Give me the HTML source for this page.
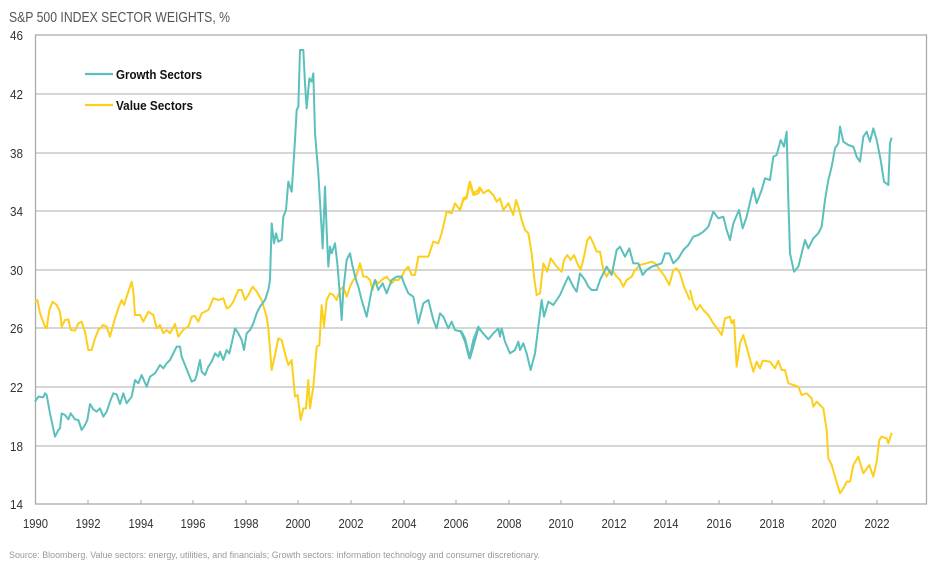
<!DOCTYPE html>
<html><head><meta charset="utf-8"><style>
body{margin:0;background:#fff;}
svg{display:block;font-family:"Liberation Sans Narrow","Liberation Sans",Arial,sans-serif;}
</style></head><body>
<svg width="944" height="569" viewBox="0 0 944 569" xmlns="http://www.w3.org/2000/svg">
<text x="9" y="22" font-size="14.5" fill="#555" textLength="221" lengthAdjust="spacingAndGlyphs">S&amp;P 500 INDEX SECTOR WEIGHTS, %</text>
<g stroke="#bdbdbd" stroke-width="1.3">
<line x1="35" y1="94" x2="926" y2="94"/><line x1="35" y1="153" x2="926" y2="153"/>
<line x1="35" y1="211" x2="926" y2="211"/><line x1="35" y1="270" x2="926" y2="270"/>
<line x1="35" y1="328" x2="926" y2="328"/><line x1="35" y1="387" x2="926" y2="387"/>
<line x1="35" y1="446" x2="926" y2="446"/>
</g>
<rect x="35.5" y="35" width="891" height="469" fill="none" stroke="#aaa" stroke-width="1.3"/>
<g stroke="#aaa" stroke-width="1">
<line x1="88" y1="500" x2="88" y2="504"/><line x1="141" y1="500" x2="141" y2="504"/><line x1="193" y1="500" x2="193" y2="504"/><line x1="246" y1="500" x2="246" y2="504"/><line x1="298" y1="500" x2="298" y2="504"/><line x1="351" y1="500" x2="351" y2="504"/><line x1="404" y1="500" x2="404" y2="504"/><line x1="456" y1="500" x2="456" y2="504"/><line x1="509" y1="500" x2="509" y2="504"/><line x1="561" y1="500" x2="561" y2="504"/><line x1="614" y1="500" x2="614" y2="504"/><line x1="666" y1="500" x2="666" y2="504"/><line x1="719" y1="500" x2="719" y2="504"/><line x1="772" y1="500" x2="772" y2="504"/><line x1="824" y1="500" x2="824" y2="504"/><line x1="877" y1="500" x2="877" y2="504"/>
</g>
<g font-size="13" fill="#333" text-anchor="end">
<text x="23" y="40" textLength="13" lengthAdjust="spacingAndGlyphs">46</text><text x="23" y="99" textLength="13" lengthAdjust="spacingAndGlyphs">42</text><text x="23" y="158" textLength="13" lengthAdjust="spacingAndGlyphs">38</text><text x="23" y="216" textLength="13" lengthAdjust="spacingAndGlyphs">34</text><text x="23" y="275" textLength="13" lengthAdjust="spacingAndGlyphs">30</text><text x="23" y="333" textLength="13" lengthAdjust="spacingAndGlyphs">26</text><text x="23" y="392" textLength="13" lengthAdjust="spacingAndGlyphs">22</text><text x="23" y="451" textLength="13" lengthAdjust="spacingAndGlyphs">18</text><text x="23" y="509" textLength="13" lengthAdjust="spacingAndGlyphs">14</text>
</g>
<g font-size="13" fill="#333">
<text x="23" y="528" textLength="25" lengthAdjust="spacingAndGlyphs">1990</text><text x="75.5" y="528" textLength="25" lengthAdjust="spacingAndGlyphs">1992</text><text x="128.5" y="528" textLength="25" lengthAdjust="spacingAndGlyphs">1994</text><text x="180.5" y="528" textLength="25" lengthAdjust="spacingAndGlyphs">1996</text><text x="233.5" y="528" textLength="25" lengthAdjust="spacingAndGlyphs">1998</text><text x="285.5" y="528" textLength="25" lengthAdjust="spacingAndGlyphs">2000</text><text x="338.5" y="528" textLength="25" lengthAdjust="spacingAndGlyphs">2002</text><text x="391.5" y="528" textLength="25" lengthAdjust="spacingAndGlyphs">2004</text><text x="443.5" y="528" textLength="25" lengthAdjust="spacingAndGlyphs">2006</text><text x="496.5" y="528" textLength="25" lengthAdjust="spacingAndGlyphs">2008</text><text x="548.5" y="528" textLength="25" lengthAdjust="spacingAndGlyphs">2010</text><text x="601.5" y="528" textLength="25" lengthAdjust="spacingAndGlyphs">2012</text><text x="653.5" y="528" textLength="25" lengthAdjust="spacingAndGlyphs">2014</text><text x="706.5" y="528" textLength="25" lengthAdjust="spacingAndGlyphs">2016</text><text x="759.5" y="528" textLength="25" lengthAdjust="spacingAndGlyphs">2018</text><text x="811.5" y="528" textLength="25" lengthAdjust="spacingAndGlyphs">2020</text><text x="864.5" y="528" textLength="25" lengthAdjust="spacingAndGlyphs">2022</text>
</g>
<text x="9" y="558" font-size="9.5" fill="#999" textLength="531" lengthAdjust="spacingAndGlyphs">Source: Bloomberg. Value sectors: energy, utilities, and financials; Growth sectors: information technology and consumer discretionary.</text>
<line x1="85" y1="74" x2="113" y2="74" stroke="#5bc0bb" stroke-width="2.2"/>
<line x1="85" y1="105" x2="113" y2="105" stroke="#fccf1a" stroke-width="2.2"/>
<text x="116" y="79" font-size="13" font-weight="bold" fill="#111" textLength="86" lengthAdjust="spacingAndGlyphs">Growth Sectors</text>
<text x="116" y="110" font-size="13" font-weight="bold" fill="#111" textLength="77" lengthAdjust="spacingAndGlyphs">Value Sectors</text>
<g fill="none" stroke-width="2" stroke-linejoin="round">
<g stroke="#fccf1a">
<polyline vector-effect="non-scaling-stroke" transform="translate(0,280) scale(0.33333)" points="105,65 112,60 120,100 135,140 140,145 148,90 158,65 170,75 180,95 185,140 195,120 205,118 212,150 225,152 235,130 245,125 255,155 265,210 275,210 285,175 295,150 310,135 320,140 330,170 345,115 355,85 365,60 372,75 385,35 395,5 400,35 405,105 420,105 430,125 445,95 460,105 470,145 480,135 490,160 500,150 510,160 525,132 535,170 545,155 555,145 565,140 575,110 585,108 595,125 605,100 615,95 625,90 640,55 655,60 670,55 680,85 690,80 700,65 715,30 725,30 735,60 745,45 758,20 770,35 785,60 800,110 805,145 815,270 825,225 835,175 845,180 855,220 865,255 875,240 885,350 893,345 902,420 910,385 918,385 925,300 930,385 940,320 950,200 958,195 965,75 972,140 980,60 990,40 1000,45 1010,60 1020,30"/>
<polyline vector-effect="non-scaling-stroke" transform="scale(0.33333)" points="1020,870 1030,860 1040,890 1050,860 1060,840 1068,830 1080,790 1090,830 1100,830 1110,840 1118,870 1125,840 1135,850 1145,840 1160,830 1175,850 1185,840 1195,840 1205,830 1215,810 1225,800 1235,825 1245,825 1255,770 1270,770 1285,770 1300,725 1315,730 1325,700 1340,635 1355,640 1365,610 1380,630 1390,600 1400,595 1410,545 1420,580 1435,570 1440,560"/>
<polyline vector-effect="non-scaling-stroke" transform="translate(460,0) scale(0.33333)" points="0,630 10,595 20,590 28,548 40,585 55,580 62,565 70,580 85,570 100,585 110,605 120,595 130,630 145,610 160,645 168,600 178,630 185,660 195,690 205,700 215,760 222,830 230,885 240,880 250,790 262,815 272,775 290,800 305,815 312,780 322,765 332,780 342,765 352,790 362,810 372,770 382,720 390,710 400,730 410,755 420,755 430,810 440,830 450,810 460,815 470,830 480,840 490,860 500,840 515,830 525,810 540,795 560,790 575,785 585,790 600,810 615,830 628,855 640,810 650,805 660,820 672,860 685,890 690,900"/>
<polyline vector-effect="non-scaling-stroke" transform="translate(460,280) scale(0.33333)" points="690,30 700,70 710,90 720,75 730,90 745,105 760,130 775,150 785,165 795,115 810,110 815,130 822,120 830,260 840,190 850,165 865,220 880,275 890,245 900,265 908,242 930,245 945,265 955,242 965,270 975,270 985,310 1000,315 1015,320 1025,345 1040,340 1055,355 1060,380 1070,365 1090,385 1100,450 1105,535 1115,555 1128,600 1140,640 1150,625 1160,605 1170,605 1180,555 1195,530 1210,580 1228,555 1240,590 1250,545 1258,480 1265,470 1280,475 1285,490 1295,458"/>
</g>
<g stroke="#5bc0bb">
<polyline vector-effect="non-scaling-stroke" transform="translate(0,280) scale(0.33333)" points="105,365 115,350 130,352 135,340 140,345 150,400 165,470 175,450 180,445 185,400 195,405 205,418 212,400 225,418 235,420 245,450 255,435 262,420 270,372 280,388 290,395 300,385 310,410 320,395 330,365 340,340 350,343 360,372 370,340 380,370 395,350 405,300 415,310 425,285 440,320 450,290 465,280 480,255 490,265 500,250 510,240 520,220 530,200 540,200 545,230 555,255 565,280 575,305 585,300 590,285 600,240 605,275 615,285 625,260 635,245 645,220 655,230 660,215 670,240 680,210 688,220 695,190 705,145 715,160 725,180 732,210 740,160 750,150 760,130 770,100 780,80 795,60 805,30 810,0"/>
<polyline vector-effect="non-scaling-stroke" transform="scale(0.33333)" points="810,840 815,670 822,730 828,700 835,725 845,720 850,650 858,630 865,545 875,575 880,500 885,420 890,330 895,320 900,150 910,150 915,250 920,325 928,235 935,245 940,220 945,400 955,520 965,690 968,745 975,560 980,690 985,800 990,740 995,760 1005,730 1012,790 1020,890 1025,960 1030,870 1040,780 1050,760 1058,800 1068,840 1075,860 1085,900 1100,950 1115,870 1125,840 1135,870 1148,850 1160,880 1175,840 1190,830 1205,830 1212,850"/>
<polyline vector-effect="non-scaling-stroke" transform="translate(0,280) scale(0.33333)" points="1212,10 1225,40 1240,50 1255,130 1270,70 1285,60 1300,120 1310,145 1320,100 1330,110 1345,145 1355,125 1365,150 1385,155 1395,175 1410,235 1420,200 1435,145 1440,150"/>
<polyline vector-effect="non-scaling-stroke" transform="translate(460,280) scale(0.33333)" points="0,150 15,185 28,235 40,180 55,140 65,155 85,178 100,160 115,145 120,170 125,145 135,185 150,220 165,210 175,185 180,210 190,190 200,220 212,270 225,220 235,140 245,60 252,110 265,65 280,75 300,45 320,0"/>
<polyline vector-effect="non-scaling-stroke" transform="translate(460,0) scale(0.33333)" points="320,840 325,830 340,860 350,875 360,820 375,840 385,860 395,870 410,870 420,840 440,800 455,825 470,750 480,740 495,770 508,745 520,790 535,790 548,825 560,810 575,800 590,795 605,790 615,760 628,760 640,790 655,775 670,750 685,735 700,710 715,705 730,695 745,680 760,635 775,655 790,650 800,690 810,720 820,670 837,630 848,685 860,650 880,565 890,610 905,570 915,535 930,540 940,470 950,465 962,420 972,440 980,395 985,600 990,760 1002,815 1015,800 1035,720 1045,745 1060,715 1075,700 1085,680 1095,600 1105,540 1115,500 1125,445 1135,430 1140,380 1150,425 1165,435 1180,440 1190,470 1200,485 1210,410 1220,395 1230,425 1240,385 1250,420 1262,480 1272,545 1285,555 1290,430 1295,413"/>
</g>
</g>
</svg>
</body></html>
